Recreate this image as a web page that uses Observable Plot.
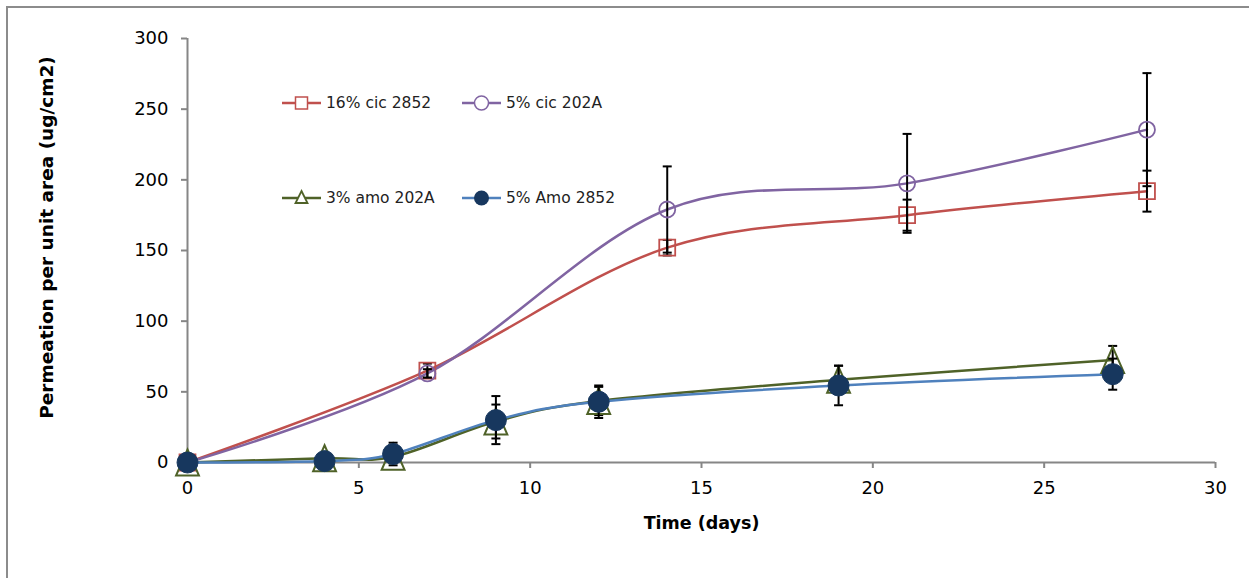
<!DOCTYPE html>
<html><head><meta charset="utf-8">
<script src="https://cdn.jsdelivr.net/npm/d3@7"></script>
<script src="https://cdn.jsdelivr.net/npm/@observablehq/plot@0.6"></script>
<style>
html,body{margin:0;padding:0;background:#fff;overflow:hidden;width:1249px;height:578px}
#wrap{position:relative;width:1249px;height:578px;overflow:hidden}
#chart{position:absolute;left:0;top:0}
#border{position:absolute;left:6px;top:6px;width:1400px;height:800px;border:2px solid #8c8c8c;box-sizing:border-box;pointer-events:none}
.leg{position:absolute;display:flex;align-items:center;font-family:"DejaVu Sans";font-size:15.5px;color:#222;white-space:nowrap}
.leg svg{display:block;margin-right:4px}
</style></head><body>
<div id="wrap"><div id="chart"></div><div id="legend"></div><div id="border"></div></div>
<script>
// ---- data ----
const seriesNames = ["16% cic 2852", "5% cic 202A", "3% amo 202A", "5% Amo 2852"];
const seriesColors = ["#C0504D", "#8064A2", "#4F6228", "#4F81BD"];
const daysCic = [0, 7, 14, 21, 28];
const cic2852 = [0, 65, 152, 175, 192];
const cic2852Err = [0, 5, 5.5, 11, 14.5];
const cic202A = [0, 63, 179, 197.5, 235.5];
const cic202AErr = [0, 3, 30.5, 35, 40];
const daysAmo = [0, 4, 6, 9, 12, 19, 27];
const amo202A = [0, 3, 4, 29, 43.5, 58.5, 72.5];
const amo202AErr = [0, 1, 2, 12, 10, 10, 10];
const amo2852 = [0, 1, 6, 30, 43, 54.5, 62.5];
const amo2852Err = [0, 1, 8, 17, 11.5, 14, 11];
const xTicks = [0, 5, 10, 15, 20, 25, 30];
const yTicks = [0, 50, 100, 150, 200, 250, 300];
const xTitle = "Time (days)";
const yTitle = "Permeation per unit area (ug/cm2)";

const build = (s, xs, ys, es) => xs.map((x, i) => ({series: seriesNames[s], x, y: ys[i], e: es[i]}));
const S = [
  build(0, daysCic, cic2852, cic2852Err),
  build(1, daysCic, cic202A, cic202AErr),
  build(2, daysAmo, amo202A, amo202AErr),
  build(3, daysAmo, amo2852, amo2852Err)
];

const capSym = {draw(ctx, size){ const r = Math.sqrt(size/Math.PI); ctx.moveTo(-r,0); ctx.lineTo(r,0); }};
const triSym = {draw(ctx, size){ const r = Math.sqrt(size/Math.PI); ctx.moveTo(0,-r); ctx.lineTo(r*0.88,r); ctx.lineTo(-r*0.88,r); ctx.closePath(); }};

const axisGray = "#868686";
const marks = [
  Plot.ruleY([0], {stroke: axisGray, strokeWidth: 2}),
  Plot.ruleX([0], {stroke: axisGray, strokeWidth: 2}),
  Plot.axisX({ticks: xTicks, tickSize: 6, tickPadding: 13, stroke: axisGray, strokeWidth: 2, fill: "#000", fontSize: 18, label: null, tickFormat: d => d}),
  Plot.axisY({ticks: yTicks, tickSize: 6, tickPadding: 13, stroke: axisGray, strokeWidth: 2, fill: "#000", fontSize: 18, label: null, tickFormat: d => d}),
  Plot.text([xTitle], {frameAnchor: "bottom", dy: 66, fontWeight: "bold", fontSize: 17.5, fill: "#000"}),
  Plot.text([yTitle], {frameAnchor: "left", textAnchor: "middle", lineAnchor: "middle", rotate: -90, dx: -140, dy: -13, fontWeight: "bold", fontSize: 18.5, fill: "#000"})
];
S.forEach((data, i) => {
  marks.push(Plot.line(data, {x: "x", y: "y", stroke: seriesColors[i], strokeWidth: 2.5, curve: "cardinal"}));
});
S.forEach((data, i) => {
  const ed = data.filter(d => d.e > 0);
  marks.push(Plot.ruleX(ed, {x: "x", y1: d => d.y - d.e, y2: d => d.y + d.e, stroke: "#000", strokeWidth: 2}));
  marks.push(Plot.dot(ed, {x: "x", y: d => d.y + d.e, symbol: capSym, r: 4.5, stroke: "#000", strokeWidth: 2}));
  marks.push(Plot.dot(ed, {x: "x", y: d => d.y - d.e, symbol: capSym, r: 4.5, stroke: "#000", strokeWidth: 2}));
  if (i === 0) marks.push(Plot.dot(data, {x: "x", y: "y", symbol: "square", r: 9, stroke: seriesColors[0], strokeWidth: 1.8, fill: "none"}));
  if (i === 1) marks.push(Plot.dot(data, {x: "x", y: "y", symbol: "circle", r: 8, stroke: seriesColors[1], strokeWidth: 1.8, fill: "none"}));
  if (i === 2) marks.push(Plot.dot(data, {x: "x", y: "y", symbol: triSym, r: 13, stroke: seriesColors[2], strokeWidth: 2, fill: "none"}));
  if (i === 3) marks.push(Plot.dot(data, {x: "x", y: "y", symbol: "circle", r: 10.5, stroke: "#17375E", strokeWidth: 1, fill: "#17375E"}));
});

const chart = Plot.plot({
  width: 1249, height: 578,
  marginLeft: 187, marginRight: 34, marginTop: 38, marginBottom: 116,
  style: {fontFamily: "DejaVu Sans", background: "transparent", color: "#000"},
  x: {domain: [0, 30]},
  y: {domain: [0, 300]},
  marks
});
document.getElementById("chart").appendChild(chart);

// ---- legend ----
const legPos = [[282, 102.5], [462, 102.5], [282, 197.5], [462, 197.5]];
const legend = d3.select("#legend");
seriesNames.forEach((name, i) => {
  const item = legend.append("div").attr("class", "leg")
    .style("left", legPos[i][0] + "px").style("top", (legPos[i][1] - 11) + "px").style("height", "22px");
  const svg = item.append("svg").attr("width", 40).attr("height", 22);
  svg.append("line").attr("x1", 0).attr("x2", 39).attr("y1", 11).attr("y2", 11)
    .attr("stroke", seriesColors[i]).attr("stroke-width", 2.5);
  const g = svg.append("g").attr("transform", "translate(19.5,11)");
  if (i === 0) g.append("rect").attr("x", -6).attr("y", -6).attr("width", 12).attr("height", 12).attr("fill", "#fff").attr("stroke", seriesColors[0]).attr("stroke-width", 1.5);
  if (i === 1) g.append("circle").attr("r", 7).attr("fill", "#fff").attr("stroke", seriesColors[1]).attr("stroke-width", 1.5);
  if (i === 2) g.append("path").attr("d", "M0,-7L6,5L-6,5Z").attr("fill", "#fff").attr("stroke", seriesColors[2]).attr("stroke-width", 1.8);
  if (i === 3) g.append("circle").attr("r", 7.5).attr("fill", "#17375E");
  item.append("span").text(name);
});
</script>
</body></html>
